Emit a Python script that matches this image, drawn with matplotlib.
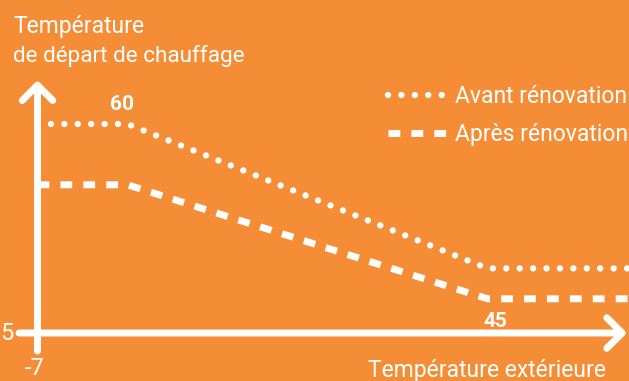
import matplotlib
matplotlib.use("Agg")
import matplotlib.pyplot as plt

# heating curve, before / after renovation (schematic)
t_ext = [-7, -2, 18, 26]
avant = [60, 60, 22, 22]
apres = [44, 44, 14, 14]

ORANGE = "#F48D35"
WHITE = "white"

plt.rcParams["font.family"] = ["Roboto", "DejaVu Sans"]

fig = plt.figure(figsize=(6.29, 3.81), dpi=100)
fig.patch.set_facecolor(ORANGE)
ax = fig.add_axes([0, 0, 1, 1])
ax.set_facecolor(ORANGE)
ax.set_xlim(-9.083, 25.861)
ax.set_ylim(-7.632, 92.63)
ax.axis("off")

# axes with open arrow heads
arrow = dict(arrowstyle="->,head_length=0.55,head_width=0.55", lw=5,
             color=WHITE, shrinkA=0, shrinkB=0, mutation_scale=20)
ax.annotate("", xy=(25.75, 5), xytext=(-8.03, 5), arrowprops=arrow)
ax.annotate("", xy=(-7, 71.5), xytext=(-7, 0.26), arrowprops=arrow)

ax.plot(t_ext, avant, color=WHITE, lw=4.6, linestyle=(0, (0.001, 2.1)),
        dash_capstyle="round", label="Avant rénovation")
ax.plot(t_ext, apres, color=WHITE, lw=5, linestyle=(0, (1.7, 1.6)),
        dash_capstyle="butt", label="Après rénovation")

ax.text(-8.36, 83.9, "Température", color=WHITE, fontsize=16.5,
        va="baseline", ha="left")
ax.text(-8.36, 76.3, "de départ de chauffage", color=WHITE, fontsize=16.2,
        va="baseline", ha="left")
ax.text(-2.31, 63.7, "60", color=WHITE, fontsize=15, fontweight="bold",
        ha="center", va="baseline")
ax.text(18.42, 6.6, "45", color=WHITE, fontsize=15, fontweight="bold",
        ha="center", va="baseline")
ax.text(-8.31, 3.16, "5", color=WHITE, fontsize=17, ha="right",
        va="baseline")
ax.text(-7.14, -6.05, "-7", color=WHITE, fontsize=17, ha="center",
        va="baseline")
ax.text(24.58, -6.58, "Température extérieure", color=WHITE, fontsize=16.5,
        ha="right", va="baseline")

leg = ax.legend(loc="upper right", bbox_to_anchor=(0.998, 0.776),
                frameon=False, fontsize=16.5, handlelength=2.6,
                handletextpad=0.3, labelspacing=0.65, borderpad=0,
                borderaxespad=0)
for txt in leg.get_texts():
    txt.set_color(WHITE)

fig.savefig("out.png", dpi=100, facecolor=ORANGE)
